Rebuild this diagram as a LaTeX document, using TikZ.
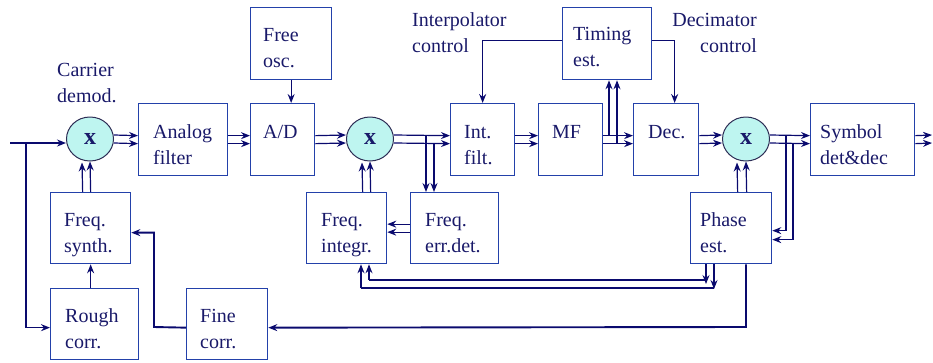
\documentclass[tikz,border=0pt]{standalone}
\usepackage{fontspec}
\setmainfont{Liberation Serif}
\usetikzlibrary{shapes.geometric,arrows.meta}
\definecolor{linec}{RGB}{10,10,110}
\definecolor{boxc}{RGB}{35,65,170}
\definecolor{textc}{RGB}{25,25,105}
\definecolor{mixfill}{RGB}{190,245,240}
\definecolor{mixdraw}{RGB}{45,45,85}
\newcommand\twoln[2]{\vtop{\hbox{#1}\hbox{#2}}}
\newcommand\twolr[2]{\vtop{\halign{\hfil##\cr#1\cr#2\cr}}}
\begin{document}
\begin{tikzpicture}[x=1pt,y=-1pt,
  blk/.style={draw=boxc,line width=1.3pt,inner sep=0pt,anchor=north west,rectangle},
  mix/.style={ellipse,draw=mixdraw,fill=mixfill,line width=1pt,minimum width=47pt,minimum height=44pt,inner sep=0pt,text=textc,font=\fontsize{24}{24}\selectfont\bfseries},
  lbl/.style={anchor=base west,inner sep=0pt,text=textc,font=\fontsize{20}{26}\selectfont},
  sig/.style={draw=linec,line width=1.2pt},
  arr/.style={sig,-{Stealth[length=9pt,width=7pt,inset=3pt]}},
  thk/.style={draw=linec,line width=1.9pt},
  mid/.style={line width=1.5pt}]
\useasboundingbox (0,0) rectangle (933,362);

% boxes
\node[blk,minimum width=89pt,minimum height=72pt] (afilt) at (138,103) {};
\node[blk,minimum width=64pt,minimum height=72pt] (ad) at (250,103) {};
\node[blk,minimum width=81pt,minimum height=72pt] (free) at (250,7) {};
\node[blk,minimum width=64pt,minimum height=72pt] (intf) at (450,103) {};
\node[blk,minimum width=64pt,minimum height=72pt] (mf) at (538,103) {};
\node[blk,minimum width=89pt,minimum height=72pt] (timing) at (562,7) {};
\node[blk,minimum width=65pt,minimum height=72pt] (dec) at (633,103) {};
\node[blk,minimum width=104pt,minimum height=72pt] (sym) at (810,103) {};
\node[blk,minimum width=80pt,minimum height=71pt] (fsyn) at (50,192) {};
\node[blk,minimum width=88pt,minimum height=71pt] (rough) at (50,288) {};
\node[blk,minimum width=81pt,minimum height=71pt] (fine) at (186,288) {};
\node[blk,minimum width=80pt,minimum height=71pt] (fint) at (306,192) {};
\node[blk,minimum width=88pt,minimum height=71pt] (ferr) at (410,192) {};
\node[blk,minimum width=81pt,minimum height=71pt] (phase) at (690,192) {};

% box labels
\node[lbl] (afilt-t) at ([shift={(15,35)}]afilt.north west) {\twoln{Analog}{filter}};
\node[lbl] (ad-t) at ([shift={(13,35)}]ad.north west) {A/D};
\node[lbl] (free-t) at ([shift={(13,34)}]free.north west) {\twoln{Free}{osc.}};
\node[lbl] (intf-t) at ([shift={(14,35)}]intf.north west) {\twoln{Int.}{filt.}};
\node[lbl] (mf-t) at ([shift={(14,35)}]mf.north west) {MF};
\node[lbl] (timing-t) at ([shift={(11,33)}]timing.north west) {\twoln{Timing}{est.}};
\node[lbl] (dec-t) at ([shift={(15,35)}]dec.north west) {Dec.};
\node[lbl] (sym-t) at ([shift={(10,35)}]sym.north west) {\twoln{Symbol}{det\&dec}};
\node[lbl] (fsyn-t) at ([shift={(14,34)}]fsyn.north west) {\twoln{Freq.}{synth.}};
\node[lbl] (rough-t) at ([shift={(15,34)}]rough.north west) {\twoln{Rough}{corr.}};
\node[lbl] (fine-t) at ([shift={(14,34)}]fine.north west) {\twoln{Fine}{corr.}};
\node[lbl] (fint-t) at ([shift={(15,34)}]fint.north west) {\twoln{Freq.}{integr.}};
\node[lbl] (ferr-t) at ([shift={(15,34)}]ferr.north west) {\twoln{Freq.}{err.det.}};
\node[lbl] (phase-t) at ([shift={(10,34)}]phase.north west) {\twoln{Phase}{est.}};

% free labels
\node[lbl] (carr) at (57,76) {\twoln{Carrier}{demod.}};
\node[lbl] (ictl) at (412,26) {\twoln{Interpolator}{control}};
\node[lbl,anchor=base east] (dctl) at (757,26) {\twolr{Decimator}{control}};

% mixers
\node[mix] (m1) at (90,139) {x};
\node[mix] (m2) at (370,139) {x};
\node[mix] (m3) at (746,139) {x};

% coordinates
\coordinate (in) at (10,143);
\coordinate (br) at (26,143);
\coordinate (b2u) at (426,135);
\coordinate (b2l) at (434,143);
\coordinate (b4u) at (609,135);
\coordinate (b4l) at (617,143);
\coordinate (b3u) at (786,135);
\coordinate (b3l) at (793,143);
\coordinate (fc) at (154,327);
\coordinate (pc) at (746,327);
\coordinate (bA1) at (706,280);
\coordinate (bA2) at (369,280);
\coordinate (bB1) at (714,288);
\coordinate (bB2) at (361,288);
\coordinate (outu) at (932,135);
\coordinate (outl) at (932,143);

% input
\draw[arr,mid] (in) -- ([yshift=-4pt]m1.west);
\draw[arr,mid] (br) |- ([yshift=-3.5pt]rough.west);

% double signal paths
\foreach \a/\b in {m1/afilt,afilt/ad,ad/m2,m2/intf,intf/mf,mf/dec,dec/m3,m3/sym}{
  \draw[arr] ([yshift=4pt]\a.east) -- ([yshift=4pt]\b.west);
  \draw[arr] ([yshift=-4pt]\a.east) -- ([yshift=-4pt]\b.west);
}
\draw[arr] ([yshift=4pt]sym.east) -- (outu);
\draw[arr] ([yshift=-4pt]sym.east) -- (outl);

% branches
\draw[arr] (b2u) -- (b2u |- ferr.north);
\draw[arr] (b2l) -- (b2l |- ferr.north);
\draw[arr] (b4u) -- (b4u |- timing.south);
\draw[arr] (b4l) -- (b4l |- timing.south);
\draw[arr] (b3u) |- ([yshift=-2.5pt]phase.east);
\draw[arr] (b3l) |- ([yshift=-11.5pt]phase.east);

% control lines
\draw[arr] (free.south) -- (free.south |- ad.north);
\draw[arr,mid] ([yshift=3pt]timing.west) -| (intf.north);
\draw[arr,mid] ([yshift=3pt]timing.east) -| ([xshift=8.5pt]dec.north);

% feedback into mixers
\draw[arr] ([xshift=-8pt]fsyn.north) -- ([xshift=-8pt,yshift=-1pt]m1.south);
\draw[arr] (fsyn.north) -- (m1.south);
\draw[arr,mid] (rough.north -| fsyn.south) -- (fsyn.south);
\draw[arr] ([yshift=4pt]ferr.west) -- ([yshift=4pt]fint.east);
\draw[arr] ([yshift=-4pt]ferr.west) -- ([yshift=-4pt]fint.east);
\draw[arr] ([xshift=16pt]fint.north) -- ([xshift=-8pt,yshift=-1pt]m2.south);
\draw[arr] ([xshift=24pt]fint.north) -- (m2.south);
\draw[arr] ([xshift=6.5pt]phase.north) -- ([xshift=-9pt,yshift=-1pt]m3.south);
\draw[arr] ([xshift=15.5pt]phase.north) -- (m3.south);

% fine correction loop
\draw[arr,thk] ([yshift=-3.5pt]fine.west) -- (fc) |- ([yshift=-4.5pt]fsyn.east);
\draw[arr,thk] (phase.south -| pc) -- (pc) -- ([yshift=-3.5pt]fine.east);

% bus from phase est. to freq. integr.
\draw[arr] (phase.south -| bA1) -- ([yshift=-4pt]bA1);
\draw[arr] (phase.south -| bB1) -- ([yshift=-1pt]bB1);
\draw[thk] (bA1) -- (bA2);
\draw[thk] (bB1) -- (bB2);
\draw[arr] (bA2) -- (bA2 |- fint.south);
\draw[arr] (bB2) -- (bB2 |- fint.south);
\end{tikzpicture}
\end{document}
